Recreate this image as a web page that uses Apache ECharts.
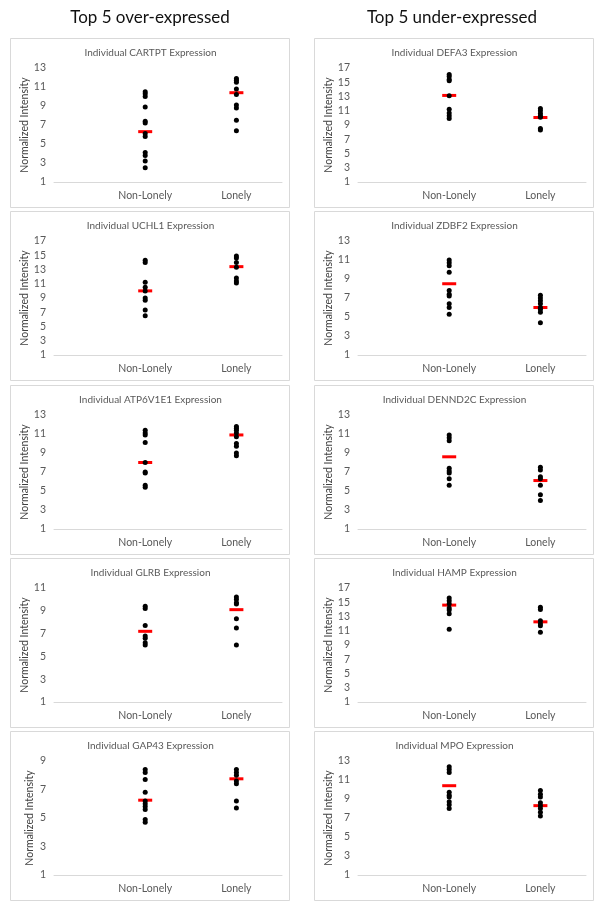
<!DOCTYPE html>
<html>
<head>
<meta charset="utf-8">
<script src="https://cdn.jsdelivr.net/npm/echarts@6/dist/echarts.min.js"></script>
<style>
html,body{margin:0;padding:0;background:#fff;}
#chart{width:605px;height:909px;}
</style>
</head>
<body>
<div id="chart"></div>
<script>
// ---- Data ----
const columnHeaders = ['Top 5 over-expressed', 'Top 5 under-expressed'];
const categories = ['Non-Lonely', 'Lonely'];
const yLabel = 'Normalized Intensity';

// Left column (over-expressed)
const genesLeft = ['CARTPT', 'UCHL1', 'ATP6V1E1', 'GLRB', 'GAP43'];
const yMaxLeft = [13, 17, 13, 11, 9];
const CARTPT_nonLonely = [10.5, 10.3, 10.0, 8.9, 7.4, 7.2, 6.1, 5.8, 4.1, 3.8, 3.2, 2.5];
const CARTPT_lonely = [11.9, 11.7, 11.5, 10.8, 10.2, 9.1, 8.8, 7.5, 6.4];
const UCHL1_nonLonely = [14.3, 14.0, 11.2, 10.5, 10.0, 9.0, 8.7, 7.3, 6.5];
const UCHL1_lonely = [14.9, 14.6, 14.0, 13.3, 11.8, 11.4, 11.1];
const ATP6V1E1_nonLonely = [11.4, 11.1, 10.9, 10.1, 8.0, 7.0, 6.9, 5.6, 5.4];
const ATP6V1E1_lonely = [11.8, 11.6, 11.4, 11.1, 10.7, 10.0, 9.7, 9.0, 8.7];
const GLRB_nonLonely = [9.4, 9.2, 7.7, 6.8, 6.6, 6.2, 6.0];
const GLRB_lonely = [10.2, 10.0, 9.7, 9.6, 8.3, 7.5, 6.0];
const GAP43_nonLonely = [8.4, 8.2, 7.7, 6.8, 6.2, 6.0, 5.8, 5.6, 4.9, 4.7];
const GAP43_lonely = [8.4, 8.2, 8.0, 7.6, 7.4, 6.2, 5.7];
const meansLeft = [[6.3, 10.4], [10.0, 13.4], [8.0, 10.9], [7.2, 9.1], [6.25, 7.75]];

// Right column (under-expressed)
const genesRight = ['DEFA3', 'ZDBF2', 'DENND2C', 'HAMP', 'MPO'];
const yMaxRight = [17, 13, 13, 17, 13];
const DEFA3_nonLonely = [16.1, 15.8, 15.4, 15.2, 13.1, 11.2, 10.7, 10.3, 9.9];
const DEFA3_lonely = [11.3, 11.0, 10.6, 10.3, 10.1, 8.5, 8.3];
const ZDBF2_nonLonely = [11.0, 10.7, 10.4, 9.7, 7.8, 7.4, 7.2, 6.4, 6.0, 5.3];
const ZDBF2_lonely = [7.3, 7.0, 6.7, 6.4, 6.0, 5.8, 5.5, 4.4];
const DENND2C_nonLonely = [10.9, 10.6, 10.3, 7.4, 7.1, 6.9, 6.3, 5.6];
const DENND2C_lonely = [7.5, 7.2, 6.5, 6.3, 5.6, 4.6, 4.0];
const HAMP_nonLonely = [15.6, 15.2, 14.8, 14.2, 13.9, 13.4, 11.2];
const HAMP_lonely = [14.3, 14.0, 12.4, 12.0, 11.7, 10.8];
const MPO_nonLonely = [12.4, 12.1, 11.8, 9.7, 9.4, 9.2, 8.7, 8.4, 8.0];
const MPO_lonely = [9.9, 9.5, 9.2, 8.6, 8.3, 8.0, 7.6, 7.2];
const meansRight = [[13.15, 10.05], [8.5, 6.0], [8.6, 6.1], [14.6, 12.25], [10.4, 8.3]];

const valuesLeft = [
  [CARTPT_nonLonely, CARTPT_lonely],
  [UCHL1_nonLonely, UCHL1_lonely],
  [ATP6V1E1_nonLonely, ATP6V1E1_lonely],
  [GLRB_nonLonely, GLRB_lonely],
  [GAP43_nonLonely, GAP43_lonely]
];
const valuesRight = [
  [DEFA3_nonLonely, DEFA3_lonely],
  [ZDBF2_nonLonely, ZDBF2_lonely],
  [DENND2C_nonLonely, DENND2C_lonely],
  [HAMP_nonLonely, HAMP_lonely],
  [MPO_nonLonely, MPO_lonely]
];

// ---- Build chart ----
const FONT = 'Lato';
const GRAY = '#595959';
const chart = echarts.init(document.getElementById('chart'), null, {renderer: 'canvas'});

const panels = [];
for (let i = 0; i < 5; i++) {
  panels.push({col: 0, row: i, gene: genesLeft[i], yMax: yMaxLeft[i], vals: valuesLeft[i], means: meansLeft[i]});
}
for (let i = 0; i < 5; i++) {
  panels.push({col: 1, row: i, gene: genesRight[i], yMax: yMaxRight[i], vals: valuesRight[i], means: meansRight[i]});
}

const colX = [10, 314];
const panelW = 279;
const panelH = 169;
const panelTop = r => Math.round(38 + 173.25 * r);

const titles = [
  {text: columnHeaders[0], left: 150, top: 9, padding: 0, textAlign: 'center',
   textStyle: {fontFamily: FONT, fontSize: 17, fontWeight: 'normal', color: '#111'}},
  {text: columnHeaders[1], left: 452, top: 9, padding: 0, textAlign: 'center',
   textStyle: {fontFamily: FONT, fontSize: 17, fontWeight: 'normal', color: '#111'}}
];
const grids = [], xAxes = [], yAxes = [], series = [], graphics = [];

panels.forEach((p, idx) => {
  const x0 = colX[p.col];
  const y0 = panelTop(p.row);
  graphics.push({type: 'rect', shape: {x: x0 + 0.5, y: y0 + 0.5, width: panelW, height: panelH},
    style: {fill: '#fff', stroke: '#d9d9d9', lineWidth: 1}, z: -10});
  titles.push({text: 'Individual ' + p.gene + ' Expression', left: x0 + panelW / 2 + 1, top: y0 + 10,
    padding: 0, textAlign: 'center',
    textStyle: {fontFamily: FONT, fontSize: 10, fontWeight: 'normal', color: GRAY}});
  grids.push({left: x0 + 44, width: panelW - 51, top: y0 + 30, height: 114, containLabel: false});
  xAxes.push({type: 'value', gridIndex: idx, min: 0, max: 2.5, interval: 0.5,
    axisLine: {show: true, lineStyle: {color: '#d9d9d9', width: 1}},
    axisTick: {show: false}, splitLine: {show: false},
    axisLabel: {fontFamily: FONT, fontSize: 10.5, color: GRAY, margin: 8,
      formatter: v => (Math.abs(v - 1) < 1e-6 ? categories[0] : (Math.abs(v - 2) < 1e-6 ? categories[1] : ''))}});
  yAxes.push({type: 'value', gridIndex: idx, min: 1, max: p.yMax, interval: 2,
    axisLine: {show: false}, axisTick: {show: false}, splitLine: {show: false},
    axisLabel: {fontFamily: FONT, fontSize: 10.5, color: GRAY, margin: 8},
    name: yLabel, nameLocation: 'middle', nameGap: 19, nameRotate: 90,
    nameTextStyle: {fontFamily: FONT, fontSize: 10.5, color: '#404040'}});
  // mean bars
  series.push({type: 'scatter', xAxisIndex: idx, yAxisIndex: idx, symbol: 'rect', symbolSize: [14, 3],
    itemStyle: {color: '#ff0000', opacity: 1}, silent: true, z: 2,
    data: [[1, p.means[0]], [2, p.means[1]]]});
  // individual dots
  const pts = [];
  p.vals[0].forEach(v => pts.push([1, v]));
  p.vals[1].forEach(v => pts.push([2, v]));
  series.push({type: 'scatter', xAxisIndex: idx, yAxisIndex: idx, symbol: 'circle', symbolSize: 5,
    itemStyle: {color: '#000', opacity: 1}, silent: true, z: 3, data: pts});
});

chart.setOption({
  backgroundColor: '#fff',
  animation: false,
  title: titles,
  grid: grids,
  xAxis: xAxes,
  yAxis: yAxes,
  series: series,
  graphic: graphics
});
</script>
</body>
</html>
